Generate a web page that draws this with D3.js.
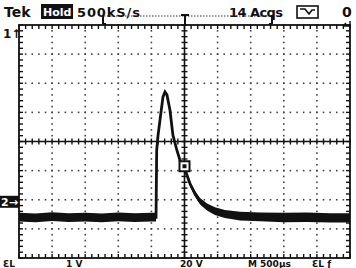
<!DOCTYPE html>
<html>
<head>
<meta charset="utf-8">
<script src="https://cdn.jsdelivr.net/npm/d3@7"></script>
<style>
  html, body { margin: 0; padding: 0; background: #fff; }
  svg { display: block; }
  text { font-family: "DejaVu Sans", sans-serif; font-weight: bold; fill: #111; }
</style>
</head>
<body>
<svg id="canvas" width="356" height="268"></svg>
<script>
// trace, in graticule divisions (x: 0..10, y: -4..4)
const traceTime = [0, 0.5, 1, 1.5, 2, 2.5, 3, 3.5, 4, 4.14, 4.16, 4.2, 4.26, 4.35, 4.41, 4.47, 4.56, 4.65, 4.77, 4.89, 5.02, 5.17, 5.32, 5.47, 5.68, 5.92, 6.22, 6.68, 7.28, 8, 8.7, 9.4, 10];
const traceLevel = [-2.6, -2.62, -2.58, -2.61, -2.6, -2.62, -2.59, -2.61, -2.6, -2.6, -0.3, 0.2, 0.74, 1.53, 1.7, 1.6, 1.08, 0.22, -0.3, -0.74, -0.98, -1.46, -1.8, -2.05, -2.25, -2.39, -2.49, -2.56, -2.59, -2.61, -2.6, -2.62, -2.62];
// noise half-width of the trace band, divisions
const traceNoise = [0.15, 0.15, 0.15, 0.15, 0.15, 0.15, 0.15, 0.15, 0.15, 0.15, 0.04, 0.04, 0.04, 0.04, 0.04, 0.04, 0.04, 0.05, 0.06, 0.07, 0.08, 0.09, 0.1, 0.11, 0.12, 0.13, 0.14, 0.15, 0.15, 0.16, 0.16, 0.16, 0.16];

const headerLabels = ['Tek', 'Hold', '500kS/s', '14 Acqs', '0'];
const footerLabels = ['ƐL', '1 V', '20 V', 'M 500\u00b5s', 'ƐL ƒ'];

const svg = d3.select('#canvas');

const x = d3.scaleLinear().domain([0, 10]).range([19, 350]);
const y = d3.scaleLinear().domain([-4, 4]).range([258, 25]);

const grid = svg.append('g');

// dotted graticule
const minorX = d3.range(0, 10.01, 0.2);
const minorY = d3.range(-4, 4.01, 0.2);
d3.range(1, 10).filter(d => d !== 5).forEach(d => {
    grid.selectAll(null).data(minorY).enter().append('rect')
        .attr('x', x(d) - 0.8).attr('y', v => y(v) - 0.8)
        .attr('width', 1.6).attr('height', 1.6).attr('fill', '#444');
});
d3.range(-3, 4).filter(d => d !== 0).forEach(d => {
    grid.selectAll(null).data(minorX).enter().append('rect')
        .attr('x', v => x(v) - 0.8).attr('y', y(d) - 0.8)
        .attr('width', 1.6).attr('height', 1.6).attr('fill', '#444');
});

// centre cross with ticks
grid.append('line').attr('x1', x(0)).attr('x2', x(10)).attr('y1', y(0)).attr('y2', y(0))
    .attr('stroke', '#111').attr('stroke-width', 1.6);
grid.append('line').attr('x1', x(5)).attr('x2', x(5)).attr('y1', y(-4)).attr('y2', y(4))
    .attr('stroke', '#111').attr('stroke-width', 1.6);
grid.selectAll(null).data(minorX).enter().append('line')
    .attr('x1', d => x(d)).attr('x2', d => x(d))
    .attr('y1', y(0) - 3).attr('y2', y(0) + 3)
    .attr('stroke', '#111').attr('stroke-width', 1.4);
grid.selectAll(null).data(minorY).enter().append('line')
    .attr('y1', d => y(d)).attr('y2', d => y(d))
    .attr('x1', x(5) - 3).attr('x2', x(5) + 3)
    .attr('stroke', '#111').attr('stroke-width', 1.4);

// border ticks
grid.selectAll(null).data(minorX).enter().append('line')
    .attr('x1', d => x(d)).attr('x2', d => x(d))
    .attr('y1', y(4)).attr('y2', y(4) + 4)
    .attr('stroke', '#111').attr('stroke-width', 1.4);
grid.selectAll(null).data(minorX).enter().append('line')
    .attr('x1', d => x(d)).attr('x2', d => x(d))
    .attr('y1', y(-4)).attr('y2', y(-4) - 4)
    .attr('stroke', '#111').attr('stroke-width', 1.4);
grid.selectAll(null).data(minorY).enter().append('line')
    .attr('y1', d => y(d)).attr('y2', d => y(d))
    .attr('x1', x(0)).attr('x2', x(0) + 4)
    .attr('stroke', '#111').attr('stroke-width', 1.4);
grid.selectAll(null).data(minorY).enter().append('line')
    .attr('y1', d => y(d)).attr('y2', d => y(d))
    .attr('x1', x(10)).attr('x2', x(10) - 4)
    .attr('stroke', '#111').attr('stroke-width', 1.4);

grid.append('rect').attr('x', x(0)).attr('y', y(4))
    .attr('width', x(10) - x(0)).attr('height', y(-4) - y(4))
    .attr('fill', 'none').attr('stroke', '#111').attr('stroke-width', 1.8);

// trace
const trace = traceTime.map((t, i) => ({t: t, v: traceLevel[i], n: traceNoise[i]}));

svg.append('path').datum(trace)
    .attr('d', d3.area().x(d => x(d.t)).y0(d => y(d.v - d.n)).y1(d => y(d.v + d.n)))
    .attr('fill', '#111');
svg.append('path').datum(trace)
    .attr('d', d3.line().x(d => x(d.t)).y(d => y(d.v)))
    .attr('fill', 'none').attr('stroke', '#111').attr('stroke-width', 2.8);

// trigger level marker
svg.append('rect').attr('x', x(5) - 5).attr('y', y(-0.85) - 5)
    .attr('width', 10).attr('height', 10)
    .attr('fill', '#fff').attr('stroke', '#111').attr('stroke-width', 2);
svg.append('rect').attr('x', x(5) - 2).attr('y', y(-0.85) - 2)
    .attr('width', 4).attr('height', 4).attr('fill', '#111');

// header
svg.append('text').attr('x', 4).attr('y', 17).attr('font-size', 14).text(headerLabels[0]);
svg.append('rect').attr('x', 41).attr('y', 4).attr('width', 32).attr('height', 15).attr('fill', '#111');
svg.append('text').attr('x', 43).attr('y', 16).attr('font-size', 11).style('fill', '#fff').text(headerLabels[1]);
svg.append('text').attr('x', 77).attr('y', 17).attr('font-size', 13).attr('textLength', 63).text(headerLabels[2]);
svg.append('text').attr('x', 229).attr('y', 17).attr('font-size', 13).attr('textLength', 54).text(headerLabels[3]);
svg.append('text').attr('x', 342).attr('y', 17).attr('font-size', 14).text(headerLabels[4]);

// acquisition icon
svg.append('rect').attr('x', 297).attr('y', 6).attr('width', 21).attr('height', 12)
    .attr('fill', 'none').attr('stroke', '#111').attr('stroke-width', 1.6);
svg.append('path').attr('d', 'M300,9 L305,9 L309,14 L312,10 L315,10')
    .attr('fill', 'none').attr('stroke', '#111').attr('stroke-width', 1.6);

// record position ruler
svg.append('line').attr('x1', 104).attr('x2', 271).attr('y1', 16).attr('y2', 16)
    .attr('stroke', '#333').attr('stroke-width', 1).attr('stroke-dasharray', '1.5,1.5');
svg.append('path').attr('d', 'M103,15 L103,24 M103,24 L106,24 M272,15 L272,24 M272,24 L269,24')
    .attr('fill', 'none').attr('stroke', '#111').attr('stroke-width', 2);
svg.append('path').attr('d', 'M181,15 L189,15 M185,15 L185,26')
    .attr('fill', 'none').attr('stroke', '#111').attr('stroke-width', 2);
svg.append('path').attr('d', 'M343,26 L350,26 L350,21 M343,26 L346,23')
    .attr('fill', 'none').attr('stroke', '#111').attr('stroke-width', 1.4);

// channel markers
svg.append('text').attr('x', 3).attr('y', 38).attr('font-size', 12).text('1\u2191');
svg.append('rect').attr('x', 0).attr('y', y(-2.07) - 6).attr('width', 19).attr('height', 12).attr('fill', '#111');
svg.append('text').attr('x', 1).attr('y', y(-2.07) + 4.5).attr('font-size', 11).style('fill', '#fff').text('2\u2192');

// footer
const footerX = [3, 66, 180, 248, 312];
svg.selectAll(null).data(footerLabels).enter().append('text')
    .attr('x', (d, i) => footerX[i]).attr('y', 267)
    .attr('font-size', 9).text(d => d);
</script>
</body>
</html>
